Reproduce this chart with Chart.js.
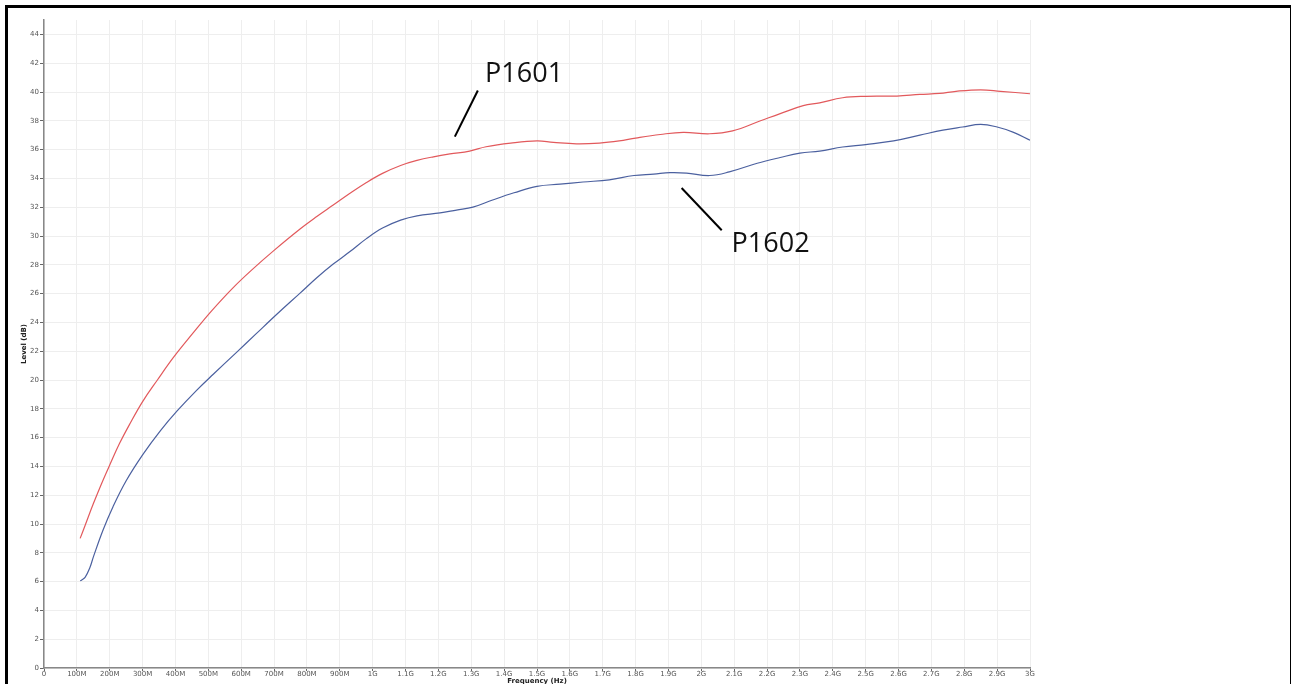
<!DOCTYPE html>
<html>
<head>
<meta charset="utf-8">
<script src="https://cdn.jsdelivr.net/npm/chart.js@4/dist/chart.umd.min.js"></script>
<style>
  html, body { margin: 0; padding: 0; background: #fff; overflow: hidden; }
  #wrap { position: relative; width: 1293px; height: 684px; }
  #frame {
    position: absolute; left: 5px; top: 5px; width: 1286px; height: 700px;
    border-left: 3px solid #000; border-top: 3px solid #000; border-right: 1px solid #000;
    box-sizing: border-box; pointer-events: none;
  }
  canvas { position: absolute; left: 0; top: 0; }
</style>
</head>
<body>
<div id="wrap">
  <canvas id="c" width="1293" height="684"></canvas>
  <div id="frame"></div>
</div>
<script>
// Frequency in MHz, level in dB
const p1601Freq = [110, 125, 150, 175, 200, 230, 260, 300, 345, 395, 455, 510, 575, 635, 700,
  780, 830, 880, 930, 980, 1030, 1085, 1135, 1185, 1235, 1295, 1345, 1420, 1500, 1550, 1620,
  1690, 1750, 1800, 1875, 1945, 2025, 2095, 2180, 2240, 2310, 2360, 2430, 2500, 2595, 2665,
  2725, 2775, 2850, 2910, 3000];
const p1601Level = [9.0, 9.9, 11.4, 12.8, 14.1, 15.6, 16.9, 18.5, 20.0, 21.6, 23.3, 24.8, 26.4, 27.7, 29.0,
  30.5, 31.35, 32.15, 32.95, 33.7, 34.35, 34.9, 35.25, 35.5, 35.7, 35.9, 36.2, 36.45, 36.6, 36.5, 36.4,
  36.45, 36.6, 36.8, 37.05, 37.2, 37.1, 37.3, 38.0, 38.5, 39.05, 39.25, 39.6, 39.7, 39.72, 39.83,
  39.9, 40.05, 40.15, 40.05, 39.88];

const p1602Freq = [110, 125, 140, 150, 180, 210, 250, 300, 355, 405, 465, 515, 585, 645, 710,
  780, 830, 880, 930, 980, 1030, 1085, 1135, 1205, 1255, 1305, 1365, 1430, 1500, 1570, 1640,
  1720, 1795, 1855, 1905, 1955, 2025, 2085, 2170, 2240, 2300, 2360, 2430, 2500, 2585, 2665,
  2735, 2795, 2850, 2900, 2950, 3000];
const p1602Level = [6.05, 6.3, 7.0, 7.7, 9.6, 11.2, 13.0, 14.8, 16.5, 17.85, 19.3, 20.4, 21.9, 23.2, 24.6,
  26.05, 27.1, 28.05, 28.9, 29.8, 30.55, 31.1, 31.4, 31.6, 31.8, 32.0, 32.5, 33.0, 33.45, 33.6, 33.75,
  33.9, 34.2, 34.3, 34.4, 34.37, 34.2, 34.45, 35.05, 35.45, 35.75, 35.9, 36.18, 36.35, 36.6, 37.0,
  37.35, 37.57, 37.75, 37.57, 37.2, 36.65];

const freqTickLabels = ['0', '100M', '200M', '300M', '400M', '500M', '600M', '700M', '800M', '900M',
  '1G', '1.1G', '1.2G', '1.3G', '1.4G', '1.5G', '1.6G', '1.7G', '1.8G', '1.9G',
  '2G', '2.1G', '2.2G', '2.3G', '2.4G', '2.5G', '2.6G', '2.7G', '2.8G', '2.9G', '3G'];

// Callout labels: text anchor and leader line ends, in MHz / dB
const callouts = [
  { text: 'P1601', tx: 1342, ty: 40.67, x1: 1250, y1: 36.9, x2: 1320, y2: 40.1 },
  { text: 'P1602', tx: 2092, ty: 28.87, x1: 1940, y1: 33.33, x2: 2062, y2: 30.4 }
];

const toPoints = (fs, ls) => fs.map((f, i) => ({ x: f, y: ls[i] }));

const calloutPlugin = {
  id: 'callouts',
  afterDatasetsDraw(chart) {
    const { ctx, scales: { x, y } } = chart;
    ctx.save();
    callouts.forEach(c => {
      ctx.strokeStyle = '#000';
      ctx.lineWidth = 2;
      ctx.lineCap = 'butt';
      ctx.beginPath();
      ctx.moveTo(x.getPixelForValue(c.x1), y.getPixelForValue(c.y1));
      ctx.lineTo(x.getPixelForValue(c.x2), y.getPixelForValue(c.y2));
      ctx.stroke();
      ctx.fillStyle = '#111';
      ctx.font = '27px "Open Sans", sans-serif';
      ctx.textAlign = 'left';
      ctx.textBaseline = 'alphabetic';
      ctx.fillText(c.text, x.getPixelForValue(c.tx), y.getPixelForValue(c.ty));
    });
    ctx.restore();
  }
};

new Chart(document.getElementById('c'), {
  type: 'line',
  data: {
    datasets: [
      { label: 'P1601', data: toPoints(p1601Freq, p1601Level), borderColor: '#e2595c',
        borderWidth: 1.2, pointRadius: 0, tension: 0.4, fill: false },
      { label: 'P1602', data: toPoints(p1602Freq, p1602Level), borderColor: '#4b609f',
        borderWidth: 1.2, pointRadius: 0, tension: 0.4, fill: false }
    ]
  },
  options: {
    responsive: false,
    animation: false,
    events: [],
    layout: { padding: { left: 20, right: 263, top: 20, bottom: 0 } },
    plugins: { legend: { display: false }, tooltip: { enabled: false } },
    scales: {
      x: {
        type: 'linear', min: 0, max: 3000,
        afterFit(s) { s.height = 16; },
        ticks: {
          stepSize: 100, autoSkip: false, maxRotation: 0, padding: -1,
          color: '#555', font: { family: 'DejaVu Sans', size: 7 },
          callback: (v) => freqTickLabels[Math.round(v / 100)]
        },
        grid: { color: '#eeeeee', lineWidth: 1, tickColor: '#666', tickLength: 3 },
        border: { color: '#888', width: 1.5 },
        title: { display: true, text: 'Frequency (Hz)', color: '#222', padding: 0,
          font: { family: 'DejaVu Sans', size: 7, weight: 'bold', lineHeight: 0.75 } }
      },
      y: {
        type: 'linear', min: 0, max: 45,
        afterFit(s) { s.width = 24; },
        ticks: {
          stepSize: 2, includeBounds: false, padding: 1,
          color: '#555', font: { family: 'DejaVu Sans', size: 7 }
        },
        grid: { color: '#eeeeee', lineWidth: 1, tickColor: '#666', tickLength: 4 },
        border: { color: '#888', width: 1.5 },
        title: { display: true, text: 'Level (dB)', color: '#222', padding: 0,
          font: { family: 'DejaVu Sans', size: 7, weight: 'bold', lineHeight: 1.2 } }
      }
    }
  },
  plugins: [calloutPlugin]
});
</script>
</body>
</html>
